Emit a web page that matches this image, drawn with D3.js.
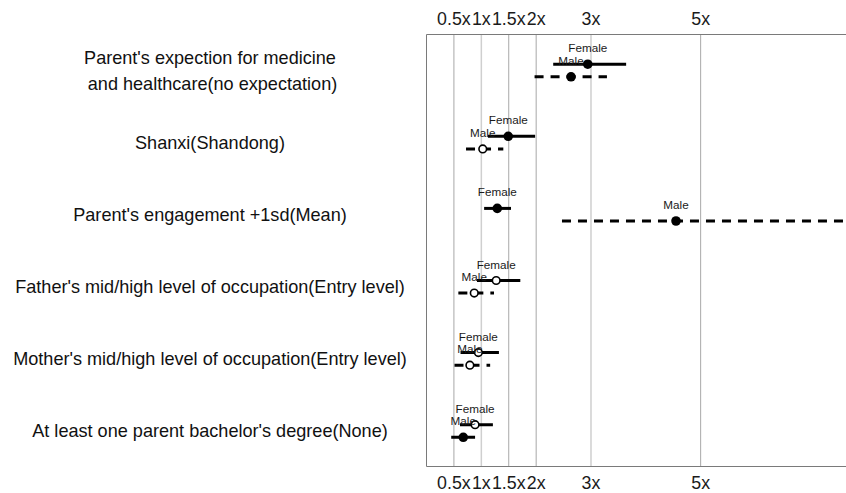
<!DOCTYPE html>
<html>
<head>
<meta charset="utf-8">
<script src="https://cdn.jsdelivr.net/npm/d3@7"></script>
<style>
  body { margin: 0; background: #fff; }
  svg { font-family: "Liberation Sans", Arial, sans-serif; display: block; }
</style>
</head>
<body>
<svg width="846" height="493"></svg>
<script>
// rows, top to bottom
const rowLabels = [
	["Parent's expection for medicine", " and healthcare(no expectation)"],
	["Shanxi(Shandong)"],
	["Parent's engagement +1sd(Mean)"],
	["Father's mid/high level of occupation(Entry level)"],
	["Mother's mid/high level of occupation(Entry level)"],
	["At least one parent bachelor's degree(None)"]
];
const femaleEst = [2.95, 1.50, 1.30, 1.28, 0.955, 0.895];
const femaleLo = [2.32, 1.13, 1.06, 0.93, 0.63, 0.62];
const femaleHi = [3.65, 1.99, 1.55, 1.72, 1.33, 1.22];
const femaleSig = [true, true, true, false, false, false];
const maleEst = [2.645, 1.035, 4.56, 0.88, 0.80, 0.68];
const maleLo = [1.98, 0.73, 2.48, 0.59, 0.52, 0.46];
const maleHi = [3.30, 1.41, 9.0, 1.24, 1.17, 0.895];
const maleSig = [true, false, true, false, false, true];
const tickVals = [0.5, 1, 1.5, 2, 3, 5];

const svg = d3.select('svg');
const pLeft = 426, pRight = 846, pTop = 34, pBottom = 466;

const x = d3.scaleLinear()
	.domain([0, 7.66])
	.range([pLeft, pRight]);
const y = d3.scalePoint()
	.domain(d3.range(rowLabels.length))
	.range([70.5, 431]);
const off = 6.3;

// grid
svg.append('g')
	.selectAll('line')
	.data(tickVals)
	.enter()
	.append('line')
	.attr('x1', d => x(d) + 0.5)
	.attr('x2', d => x(d) + 0.5)
	.attr('y1', pTop)
	.attr('y2', pBottom)
	.attr('stroke', d => (d == 1 || d == 3) ? '#cfcfcf' : '#a8a8a8')
	.attr('stroke-width', d => (d == 1 || d == 3) ? 1.5 : 1);

// frame (left, top, bottom)
svg.append('path')
	.attr('d', `M${pRight},${pTop + 0.5}H${pLeft + 0.5}V${pBottom + 0.5}H${pRight}`)
	.attr('fill', 'none')
	.attr('stroke', '#7a7a7a')
	.attr('stroke-width', 1);

// axes
const fmt = d => d + 'x';
const axTop = svg.append('g')
	.attr('transform', `translate(0,${pTop})`)
	.call(d3.axisTop(x).tickValues(tickVals).tickFormat(fmt).tickSize(0).tickPadding(9));
const axBot = svg.append('g')
	.attr('transform', `translate(0,${pBottom})`)
	.call(d3.axisBottom(x).tickValues(tickVals).tickFormat(fmt).tickSize(0).tickPadding(10));
[axTop, axBot].forEach(a => {
	a.select('.domain').remove();
	a.selectAll('text')
		.attr('font-family', '"Liberation Sans", Arial, sans-serif')
		.attr('font-size', 17.8)
		.attr('fill', '#1a1a1a');
});

// row labels
const lab = svg.append('g')
	.selectAll('text')
	.data(rowLabels)
	.enter()
	.append('text')
	.attr('text-anchor', 'middle')
	.attr('font-size', 18.1)
	.attr('fill', '#111')
	.style('white-space', 'pre')
	.attr('y', (d, i) => y(i) + 6.3 - (d.length - 1) * 13.3);
lab.selectAll('tspan')
	.data(d => d)
	.enter()
	.append('tspan')
	.attr('x', 210)
	.attr('dy', (d, i) => i ? 26.8 : 0)
	.text(d => d);

// estimates
function drawSeries(est, lo, hi, sig, dy, dash, name) {
	const g = svg.append('g');
	g.selectAll('line')
		.data(est)
		.enter()
		.append('line')
		.attr('x1', (d, i) => x(lo[i]))
		.attr('x2', (d, i) => x(Math.min(hi[i], 7.7)))
		.attr('y1', (d, i) => y(i) + dy)
		.attr('y2', (d, i) => y(i) + dy)
		.attr('stroke', '#000')
		.attr('stroke-width', 3)
		.attr('stroke-dasharray', dash);
	g.selectAll('circle')
		.data(est)
		.enter()
		.append('circle')
		.attr('cx', d => x(d))
		.attr('cy', (d, i) => y(i) + dy)
		.attr('r', (d, i) => sig[i] ? 4.8 : 3.8)
		.attr('fill', (d, i) => sig[i] ? '#000' : '#fff')
		.attr('stroke', '#000')
		.attr('stroke-width', (d, i) => sig[i] ? 0 : 1.6);
	g.selectAll('text')
		.data(est)
		.enter()
		.append('text')
		.attr('x', d => x(d))
		.attr('y', (d, i) => y(i) + dy - 12)
		.attr('text-anchor', 'middle')
		.attr('font-size', 11.7)
		.attr('fill', '#1a1a1a')
		.text(name);
}
drawSeries(femaleEst, femaleLo, femaleHi, femaleSig, -off, null, 'Female');
drawSeries(maleEst, maleLo, maleHi, maleSig, off, '9,7', 'Male');
</script>
</body>
</html>
